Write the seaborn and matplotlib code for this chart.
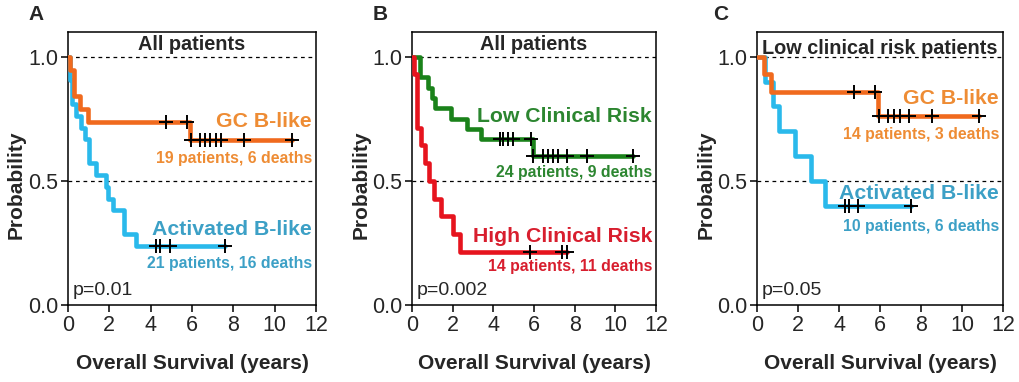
# Kaplan-Meier style survival curves, three panels
import numpy as np
import pandas as pd
import seaborn as sns
import matplotlib.pyplot as plt

# ---- data ----
# panel A: all patients, GC B-like vs Activated B-like
a_gc_t = [0, 0.1, 0.3, 0.6, 0.95, 5.92]
a_gc_s = [1.0, 0.947, 0.842, 0.789, 0.737, 0.663]
a_gc_cens = [4.73, 5.77, 5.95, 6.39, 6.63, 6.87, 7.14, 7.39, 8.53, 10.82]

a_ab_t = [0, 0.1, 0.2, 0.37, 0.61, 0.81, 1.02, 1.34, 1.82, 1.92, 2.19, 2.71, 3.27]
a_ab_s = [1.0, 0.905, 0.81, 0.762, 0.714, 0.667, 0.571, 0.524, 0.476, 0.429, 0.381, 0.286, 0.238]
a_ab_cens = [4.25, 4.45, 4.95, 7.6]

# panel B: all patients, low vs high clinical risk
b_low_t = [0, 0.4, 0.8, 0.97, 1.13, 1.9, 2.7, 3.4, 5.97]
b_low_s = [1.0, 0.917, 0.875, 0.833, 0.792, 0.75, 0.708, 0.667, 0.6]
b_low_cens = [4.33, 4.49, 4.74, 4.98, 5.84, 5.97, 6.46, 6.7, 6.95, 7.2, 7.61, 8.62, 10.89]

b_high_t = [0, 0.1, 0.25, 0.45, 0.62, 0.85, 1.1, 1.42, 2.02, 2.38]
b_high_s = [1.0, 0.929, 0.714, 0.643, 0.571, 0.5, 0.429, 0.357, 0.286, 0.214]
b_high_cens = [5.8, 7.36, 7.64]

# panel C: low clinical risk patients, GC B-like vs Activated B-like
c_gc_t = [0, 0.32, 0.68, 5.92]
c_gc_s = [1.0, 0.929, 0.857, 0.762]
c_gc_cens = [4.73, 5.76, 5.97, 6.41, 6.68, 6.97, 7.43, 8.52, 10.83]

c_ab_t = [0, 0.4, 0.8, 1.05, 1.86, 2.62, 3.32]
c_ab_s = [1.0, 0.9, 0.8, 0.7, 0.6, 0.5, 0.4]
c_ab_cens = [4.3, 4.51, 4.95, 7.5]

orange, orange_txt = "#F06A1E", "#EE8C34"
cyan, cyan_txt = "#2AB9EB", "#3CA0C6"
green, green_txt = "#1A821A", "#2C8630"
red, red_txt = "#E6141E", "#D81E2E"


def km_frame(times, surv, cens):
    end = max(cens)
    t = list(times) + [end]
    s = list(surv) + [surv[-1]]
    return pd.DataFrame({"time": t, "surv": s})


def cens_frame(times, surv, cens):
    idx = np.searchsorted(times, cens, side="right") - 1
    return pd.DataFrame({"time": cens, "surv": np.array(surv)[idx]})


def draw_curve(ax, times, surv, cens, color):
    sns.lineplot(data=km_frame(times, surv, cens), x="time", y="surv", ax=ax,
                 drawstyle="steps-post", estimator=None, sort=False,
                 color=color, lw=3.3, zorder=3)
    sns.scatterplot(data=cens_frame(times, surv, cens), x="time", y="surv", ax=ax,
                    marker="+", s=100, color="black", linewidth=1.4, zorder=4)


sns.set_theme(style="ticks")
plt.rcParams["font.family"] = ["Liberation Sans", "DejaVu Sans"]

fig = plt.figure(figsize=(10.19, 3.82), dpi=100)
lefts = [68, 412, 757]
widths = [248, 244, 246]
axes = [fig.add_axes([l / 1019, 1 - 305 / 382, w / 1019, 273 / 382])
        for l, w in zip(lefts, widths)]

panels = [
    dict(title="All patients", p="p=0.01",
         curves=[(a_ab_t, a_ab_s, a_ab_cens, cyan), (a_gc_t, a_gc_s, a_gc_cens, orange)],
         labels=[("GC B-like", 0.739, orange_txt, 15.3), ("19 patients, 6 deaths", 0.59, orange_txt, 11.4),
                 ("Activated B-like", 0.305, cyan_txt, 15.3), ("21 patients, 16 deaths", 0.168, cyan_txt, 11.4)],
         title_y=1.048),
    dict(title="All patients", p="p=0.002",
         curves=[(b_low_t, b_low_s, b_low_cens, green), (b_high_t, b_high_s, b_high_cens, red)],
         labels=[("Low Clinical Risk", 0.76, green_txt, 15.3), ("24 patients, 9 deaths", 0.534, green_txt, 11.4),
                 ("High Clinical Risk", 0.278, red_txt, 15.3), ("14 patients, 11 deaths", 0.155, red_txt, 11.4)],
         title_y=1.048),
    dict(title="Low clinical risk patients", p="p=0.05",
         curves=[(c_ab_t, c_ab_s, c_ab_cens, cyan), (c_gc_t, c_gc_s, c_gc_cens, orange)],
         labels=[("GC B-like", 0.833, orange_txt, 15.3), ("14 patients, 3 deaths", 0.685, orange_txt, 11.4),
                 ("Activated B-like", 0.45, cyan_txt, 15.3), ("10 patients, 6 deaths", 0.316, cyan_txt, 11.4)],
         title_y=1.035),
]

for ax, panel, letter, lx in zip(axes, panels, "ABC", [28, 373, 713]):
    for y in (1.0, 0.5):
        ax.axhline(y, color="black", lw=0.9, ls=(0, (3, 3)), zorder=1)
    for t, s, c, col in panel["curves"]:
        draw_curve(ax, t, s, c, col)
    for text, y, col, size in panel["labels"]:
        ax.text(11.8, y, text, color=col, fontsize=size, fontweight="bold",
                ha="right", va="center")
    ax.text(6, panel["title_y"], panel["title"], fontsize=14.3, fontweight="bold",
            ha="center", va="center")
    ax.text(0.25, 0.06, panel["p"], fontsize=14, ha="left", va="center")

    ax.set_xlim(0, 12)
    ax.set_ylim(0, 1.1)
    ax.set_xticks([0, 2, 4, 6, 8, 10, 12])
    ax.set_yticks([0, 0.5, 1.0])
    ax.set_yticklabels(["0.0", "0.5", "1.0"])
    ax.tick_params(labelsize=15.5, length=5, width=1.1, pad=2, color="black")
    for sp in ax.spines.values():
        sp.set_color("black")
        sp.set_linewidth(1.1)
    ax.set_xlabel("Overall Survival (years)", fontsize=15, fontweight="bold")
    ax.set_ylabel("Probability", fontsize=15, fontweight="bold")
    ax.xaxis.set_label_coords(0.5, -0.18)
    ax.yaxis.set_label_coords(-0.17, 0.44)
    fig.text(lx / 1019, 1 - 20 / 382, letter, fontsize=15, fontweight="bold")

fig.savefig("out.png", dpi=100)
